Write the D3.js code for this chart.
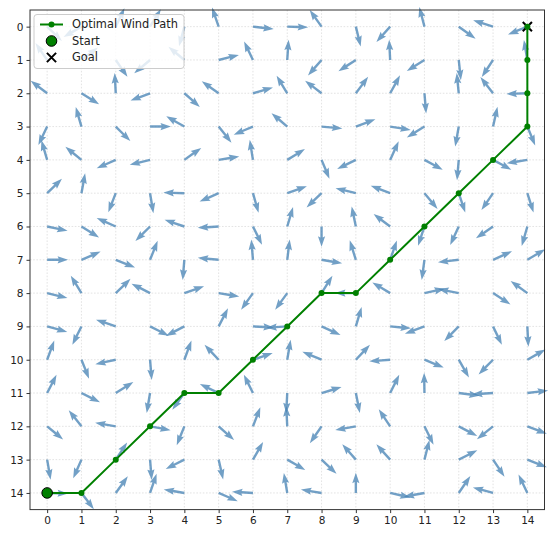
<!DOCTYPE html>
<html><head><meta charset="utf-8">
<script src="https://cdn.jsdelivr.net/npm/d3@7/dist/d3.min.js"></script>
<style>
html,body{margin:0;padding:0;background:#fff;}
svg{display:block;}
text{font-family:"DejaVu Sans",sans-serif;}
</style></head>
<body>
<svg id="chart" width="550" height="534"></svg>
<script>
// Grid coordinates and tick labels
const gridX = d3.range(15);
const gridY = d3.range(15);
const tickLabels = d3.range(15).map(String);

// Wind components per row (row = y value 0..14, columns = x 0..14); U east, V "up" on screen
const windU = [
  [40,-50,25,30,-15,-17,60,62,-35,14,-40,-13,46,-64,-62],
  [-37,45,33,-45,-48,63,-27,4,-40,-51,-3,-53,6,-32,-10],
  [-46,55,-3,-57,44,-52,60,-33,-52,37,30,5,-6,-38,-62],
  [-24,-17,43,62,-53,38,-60,-50,63,60,60,-53,-10,13,21],
  [-16,-49,-57,-57,52,63,-10,54,22,-58,25,52,-5,45,-60],
  [46,11,-22,10,-63,-57,17,60,-45,-63,-60,37,19,-34,18],
  [64,53,-57,-43,-60,-62,27,17,0,-13,-50,-18,-26,-51,-17],
  [67,59,58,23,-5,-62,-5,7,62,-18,20,-8,-66,56,48],
  [64,-32,46,-57,62,63,-35,-36,33,-63,-55,62,-60,51,-52],
  [64,-27,-60,55,-53,28,60,-60,60,17,65,-63,-44,26,3],
  [22,23,-62,5,22,-42,60,10,-60,42,-62,57,29,-44,48],
  [29,56,56,-10,-35,-57,-27,-3,62,12,28,-1,62,-62,62],
  [46,-39,-62,63,-23,46,23,-3,-35,-65,-35,27,54,-47,56],
  [10,-24,33,5,-56,13,30,54,45,-41,-42,15,54,34,54],
  [62,36,36,20,-63,58,-65,-10,-65,0,60,-63,34,-64,-27]
];
const windV = [
  [-40,-30,55,50,-57,51,-7,-2,51,-59,-46,51,-34,21,-26],
  [55,35,-49,-39,41,16,58,63,-47,-34,63,-34,-58,-50,60],
  [36,-35,60,-22,-40,38,18,56,41,51,56,-62,62,50,-2],
  [-52,60,-44,0,31,-49,-26,44,-6,23,-10,-34,-58,60,-52],
  [56,41,-26,-14,38,11,65,34,-54,-29,56,-29,-60,-25,-10],
  [46,62,-58,-62,2,-26,-61,22,-44,16,24,-46,-58,-51,-58],
  [-14,-34,26,-44,21,-4,-56,59,-61,64,39,-56,-58,-36,-61],
  [0,26,-24,59,-62,6,64,59,-11,59,59,-61,-8,26,29],
  [-16,54,46,30,22,-11,-51,-51,54,0,34,14,12,-34,39],
  [-18,-56,21,-28,-28,56,-3,-4,-28,59,-6,-24,-46,-56,-61],
  [61,-59,-14,-62,61,46,21,61,26,46,-5,-24,-52,-46,28],
  [58,-29,36,-62,-50,28,56,-62,19,-62,58,66,-8,-4,8],
  [-39,51,11,-12,-59,-42,61,62,-52,-12,54,-56,-29,-39,-22],
  [-60,-56,51,-62,-29,-59,54,-32,-44,48,48,61,28,-52,-22],
  [-2,-49,51,61,11,-26,4,61,11,61,-14,-12,51,18,58]
];

// Optimal path
const pathX = [0,1,2,3,4,5,6,7,8,9,10,11,12,13,14,14,14,14];
const pathY = [14,14,13,12,11,11,10,9,8,8,7,6,5,4,3,2,1,0];
const startPt = [0,14];
const goalPt = [14,0];
const legendLabels = ["Optimal Wind Path","Start","Goal"];

const svg = d3.select("#chart");
const x = d3.scaleLinear().domain([-0.5,14.5]).range([30,544.5]);
const y = d3.scaleLinear().domain([-0.5,14.5]).range([10,509.6]);

// grid
const grid = svg.append("g");
grid.selectAll(".gx").data(gridX).enter().append("line")
  .attr("x1",d=>x(d)).attr("x2",d=>x(d)).attr("y1",y(-0.5)).attr("y2",y(14.5))
  .attr("stroke","#b0b0b0").attr("stroke-opacity",0.45).attr("stroke-width",0.8).attr("stroke-dasharray","1.6,1.6");
grid.selectAll(".gy").data(gridY).enter().append("line")
  .attr("y1",d=>y(d)).attr("y2",d=>y(d)).attr("x1",x(-0.5)).attr("x2",x(14.5))
  .attr("stroke","#b0b0b0").attr("stroke-opacity",0.45).attr("stroke-width",0.8).attr("stroke-dasharray","1.6,1.6");

// arrows
const L = 0.61, w = 2.4, hl = 10.5, ha = 9.4, hw = 7.2;
const arrows = [];
gridY.forEach(j => gridX.forEach(i => {
  const u = windU[j][i], v = windV[j][i];
  const n = Math.hypot(u,v);
  arrows.push({x0:x(i), y0:y(j), x1:x(i + L*u/n), y1:y(j - L*v/n)});
}));
function arrowPath(a){
  const dx=a.x1-a.x0, dy=a.y1-a.y0, len=Math.hypot(dx,dy);
  const ex=dx/len, ey=dy/len, nx=-ey, ny=ex;
  const P=(s,t)=>[a.x0+ex*s+nx*t, a.y0+ey*s+ny*t];
  const pts=[P(0,-w/2),P(len-ha,-w/2),P(len-hl,-hw/2),P(len,0),P(len-hl,hw/2),P(len-ha,w/2),P(0,w/2)];
  return "M"+pts.map(p=>p[0].toFixed(2)+","+p[1].toFixed(2)).join("L")+"Z";
}
svg.append("g").selectAll("path").data(arrows).enter().append("path")
  .attr("d",arrowPath).attr("fill","steelblue").attr("fill-opacity",0.76);

// path
const pts = pathX.map((d,k)=>[d,pathY[k]]);
const line = d3.line().x(d=>x(d[0])).y(d=>y(d[1]));
svg.append("path").datum(pts).attr("d",line).attr("fill","none").attr("stroke","#008000").attr("stroke-width",2);

// goal X
function xMark(g,cx,cy,s){
  g.append("path").attr("d",`M${cx-s},${cy-s}L${cx+s},${cy+s}M${cx-s},${cy+s}L${cx+s},${cy-s}`)
   .attr("stroke","#000").attr("stroke-width",2).attr("fill","none");
}
xMark(svg, x(goalPt[0]), y(goalPt[1]), 4.6);

svg.append("g").selectAll("circle").data(pts).enter().append("circle")
  .attr("cx",d=>x(d[0])).attr("cy",d=>y(d[1])).attr("r",3).attr("fill","#008000");

svg.append("circle").attr("cx",x(startPt[0])).attr("cy",y(startPt[1])).attr("r",5.3)
  .attr("fill","#008000").attr("stroke","#000").attr("stroke-width",1);

// spines
svg.append("rect").attr("x",x(-0.5)).attr("y",y(-0.5)).attr("width",x(14.5)-x(-0.5)).attr("height",y(14.5)-y(-0.5))
  .attr("fill","none").attr("stroke","#333").attr("stroke-width",1);

// axes
const ax = svg.append("g").attr("transform",`translate(0,${y(14.5)})`)
  .call(d3.axisBottom(x).tickValues(gridX).tickFormat((d,k)=>tickLabels[k]).tickSize(3.5).tickPadding(3));
const ay = svg.append("g").attr("transform",`translate(${x(-0.5)},0)`)
  .call(d3.axisLeft(y).tickValues(gridY).tickFormat((d,k)=>tickLabels[k]).tickSize(3.5).tickPadding(3));
[ax,ay].forEach(a=>{
  a.select(".domain").remove();
  a.selectAll("line").attr("stroke","#333");
  a.selectAll("text").attr("font-family","DejaVu Sans").attr("font-size",10.5).attr("fill","#222");
});

// legend
const lg = svg.append("g");
lg.append("rect").attr("x",34).attr("y",14.5).attr("width",150).attr("height",54).attr("rx",3)
  .attr("fill","#fff").attr("fill-opacity",0.8).attr("stroke","#cccccc").attr("stroke-width",1);
const ly = [24.5,41,57.5];
lg.append("line").attr("x1",40).attr("x2",63).attr("y1",ly[0]).attr("y2",ly[0]).attr("stroke","#008000").attr("stroke-width",2);
lg.append("circle").attr("cx",51.5).attr("cy",ly[0]).attr("r",3).attr("fill","#008000");
lg.append("circle").attr("cx",51.5).attr("cy",ly[1]).attr("r",5.3).attr("fill","#008000").attr("stroke","#000");
xMark(lg,51.5,ly[2],4.6);
lg.selectAll("text").data(legendLabels).enter().append("text")
  .attr("x",72).attr("y",(d,k)=>ly[k]).attr("dy","0.35em").attr("font-size",11.4).attr("fill","#222").text(d=>d);
</script>
</body></html>
